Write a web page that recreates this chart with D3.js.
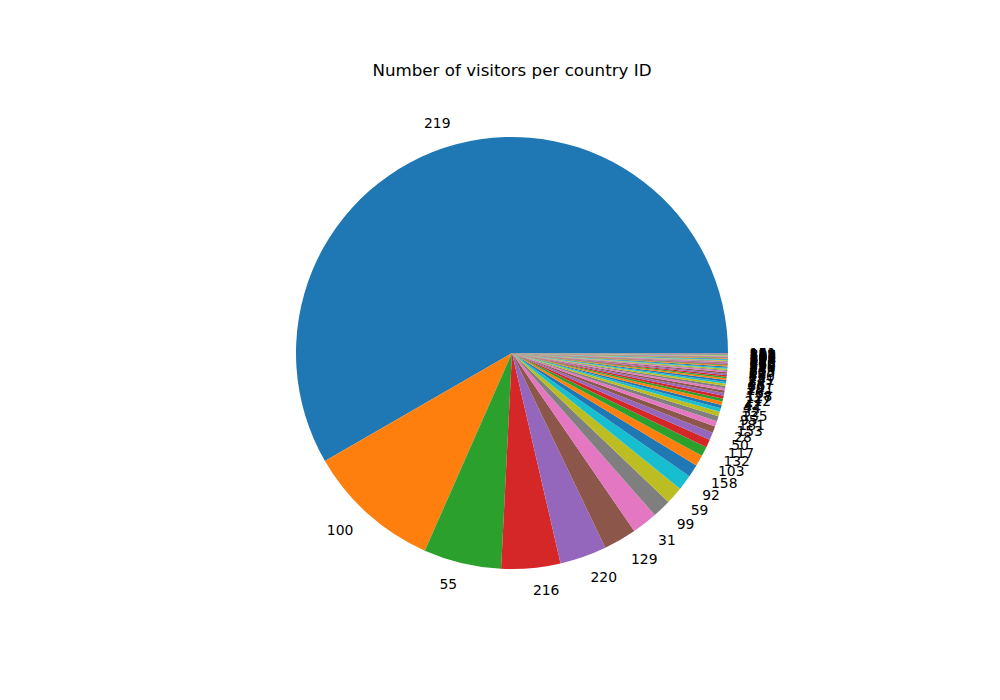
<!DOCTYPE html><html><head><meta charset="utf-8"><script src="https://cdn.jsdelivr.net/npm/d3@7"></script>
<style>body{margin:0;background:#fff}</style></head><body><svg id="c" width="1000" height="700"></svg>
<script>
const countryIds=["219","100","55","216","220","129","31","99","59","92","158","103","132","117","50","28","153","181","95",
"135","32","44","42","212","127","118","76","14","201","66","187","3","141","25","170","88","12","205","61","149","7","113","39","196","82","160","47","122","9","174","57","208","36","145","70","190","18","101","163","5","137","85","199","22","151"];
const visitors=[2100,362,209,159,126,89,69,50,47,41,34,30,25,22,20,18,15,14,12,
10,9,9,8,8,7,7,6,6,6,5,5,5,4,4,4,4,3,3,3,3,3,3,2,2,2,2,2,2,2,2,2,2,1,1,1,1,1,1,1,1,1,1,1,1,1];
const colors=["#1f77b4","#ff7f0e","#2ca02c","#d62728","#9467bd","#8c564b","#e377c2","#7f7f7f","#bcbd22","#17becf"];
const svg=d3.select("#c"),cx=512,cy=353,r=216;
svg.append("text").attr("x",512).attr("y",76).attr("text-anchor","middle").attr("font-family","DejaVu Sans").attr("font-size",16.7).text("Number of visitors per country ID");
const data=countryIds.map((id,i)=>({id,v:visitors[i]}));
const pie=d3.pie().sort(null).value(d=>d.v).startAngle(Math.PI/2).endAngle(Math.PI/2-2*Math.PI);
const arcs=pie(data);
const arc=d3.arc().innerRadius(0).outerRadius(r);
const g=svg.append("g").attr("transform",`translate(${cx},${cy})`);
g.selectAll("path").data(arcs).join("path").attr("d",arc).attr("fill",(d,i)=>colors[i%10]);
g.selectAll("text").data(arcs).join("text").each(function(d){
 const a=(d.startAngle+d.endAngle)/2,x=Math.sin(a)*r*1.1,y=-Math.cos(a)*r*1.1;
 d3.select(this).attr("x",x).attr("y",y).attr("dy","0.35em").attr("text-anchor",x>=0?"start":"end")
 .attr("font-family","DejaVu Sans").attr("font-size",13.9).text(d.data.id);
});
</script></body></html>
